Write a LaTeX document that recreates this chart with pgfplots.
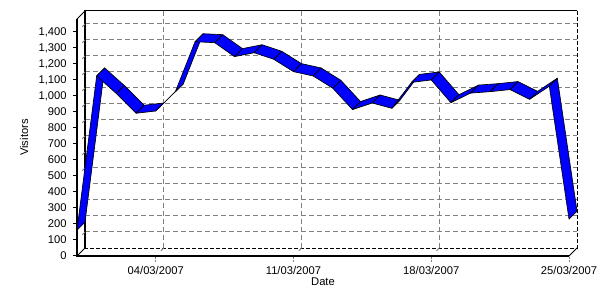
\documentclass[border=0pt]{standalone}
\usepackage{pgfplots}
\pgfplotsset{compat=1.18}
\usepackage{pgfplotstable}
\usepackage{fontspec}
\setmainfont{Liberation Sans}

\pgfplotstableread{
x y
0 162
1 1125
2 1015
3 892
4 906
5 1027
6 1339
7 1333
8 1246
9 1270
10 1229
11 1152
12 1125
13 1048
14 915
15 956
16 923
17 1085
18 1100
19 958
20 1018
21 1027
22 1040
23 979
24 1061
25 231
}\visits

\definecolor{ribbon}{RGB}{0,0,255}
\definecolor{gridgray}{RGB}{128,128,128}

\begin{document}
\begin{tikzpicture}
\path[use as bounding box] (0pt,0pt) rectangle (450pt,225pt);

% back wall with grid
\begin{axis}[
  at={(63.75pt,39pt)}, anchor=south west,
  scale only axis, width=369pt, height=177.75pt,
  xmin=0, xmax=25, ymin=0, ymax=1481,
  axis line style={draw=none},
  xtick={4,11,18}, ytick={100,200,...,1400},
  xticklabels={}, yticklabels={},
  tick style={draw=none},
  grid=major,
  major grid style={gridgray, line width=0.75pt, dash pattern=on 3.75pt off 2.25pt},
  clip=false,
]
\draw[black, line width=0.75pt] (rel axis cs:0,0) -- (rel axis cs:0,1) -- (rel axis cs:1,1);
\draw[black, line width=0.75pt, dash pattern=on 3pt off 1.5pt] (rel axis cs:1,1) -- (rel axis cs:1,0) -- (rel axis cs:0,0);
\pgfplotsinvokeforeach{100,200,...,1400}{
  \draw[gridgray, line width=0.75pt, dash pattern=on 3pt off 9pt] (axis cs:0,#1) -- ++(-6pt,-6pt);
}
\pgfplotsinvokeforeach{4,11,18}{
  \draw[gridgray, line width=0.75pt, dash pattern=on 3pt off 9pt] (axis cs:#1,0) -- ++(-6pt,-6pt);
}
\end{axis}

% front axis with data
\begin{axis}[
  at={(57.75pt,33pt)}, anchor=south west,
  scale only axis, width=369pt, height=177.75pt,
  xmin=0, xmax=25, ymin=0, ymax=1481,
  clip=false,
  axis line style={draw=none},
  tick pos=left, tick align=outside,
  xtick={4,11,18,25},
  xticklabels={04/03/2007,11/03/2007,18/03/2007,25/03/2007},
  ytick={0,100,...,1400},
  scaled y ticks=false,
  x tick style={gridgray, line width=0.75pt, dash pattern=on 1.5pt off 0.75pt, /pgfplots/major tick length=4.5pt},
  y tick style={black, line width=0.75pt, /pgfplots/major tick length=3pt},
  tick label style={font=\fontsize{8.4}{10}\selectfont},
  /pgf/number format/assume math mode=true,
  /pgf/number format/1000 sep={,},
  xlabel={Date}, ylabel={Visitors},
  every axis x label/.style={at={(rel axis cs:0.5,0)}, anchor=center, yshift=-19.5pt, font=\fontsize{8.4}{10}\selectfont},
  every axis y label/.style={at={(rel axis cs:0,0.5)}, anchor=center, xshift=-39.75pt, rotate=90, font=\fontsize{8.4}{10}\selectfont},
]
\draw[black, line width=1.9pt] (rel axis cs:0,1) -- (rel axis cs:0,0) -- (rel axis cs:1,0);
\draw[black, line width=0.75pt] (rel axis cs:0,1) -- ++(6pt,6pt);
\draw[black, line width=0.75pt] (rel axis cs:0,0) -- ++(6pt,6pt);
\draw[black, line width=0.75pt] (rel axis cs:1,0) -- ++(6pt,6pt);

% ribbon: one parallelogram per segment, depth 8px = 0.4065 day, 50 visitors
\pgfplotsforeachungrouped \i in {0,...,24}{
  \pgfmathtruncatemacro{\j}{\i+1}
  \pgfplotstablegetelem{\i}{x}\of\visits \let\xa=\pgfplotsretval
  \pgfplotstablegetelem{\j}{x}\of\visits \let\xb=\pgfplotsretval
  \pgfplotstablegetelem{\i}{y}\of\visits \let\ya=\pgfplotsretval
  \pgfplotstablegetelem{\j}{y}\of\visits \let\yb=\pgfplotsretval
  \pgfmathsetmacro{\xaa}{\xa+0.4065}
  \pgfmathsetmacro{\xbb}{\xb+0.4065}
  \pgfmathsetmacro{\yaa}{\ya+50}
  \pgfmathsetmacro{\ybb}{\yb+50}
  \edef\tmp{\noexpand\addplot[fill=ribbon, draw=black, line width=0.5pt, line join=round, mark=none]
    coordinates {(\xa,\ya) (\xb,\yb) (\xbb,\ybb) (\xaa,\yaa)} -- cycle;}
  \tmp
}
\end{axis}
\end{tikzpicture}
\end{document}
